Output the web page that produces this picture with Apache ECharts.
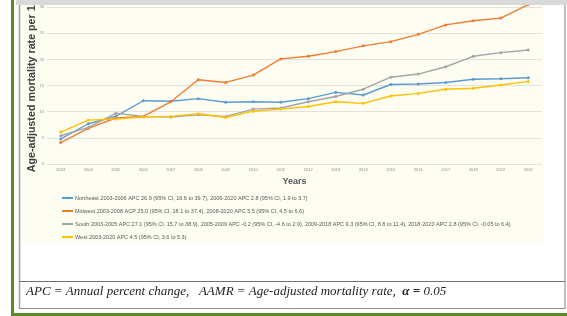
<!DOCTYPE html>
<html>
<head>
<meta charset="utf-8">
<script src="https://cdn.jsdelivr.net/npm/echarts@6/dist/echarts.min.js"></script>
<style>
  html, body { margin: 0; padding: 0; background: #fff; }
  #chart { width: 567px; height: 316px; }
</style>
</head>
<body>
<div id="chart"></div>
<script>
const years = ["2003", "2004", "2005", "2006", "2007", "2008", "2009", "2010", "2011",
  "2012", "2013", "2014", "2015", "2016", "2017", "2018", "2019", "2020"];

const northeast = [4.8, 7.7, 9.1, 12.1, 12.0, 12.5, 11.8, 11.9, 11.8, 12.5, 13.7, 13.2, 15.2, 15.3, 15.6, 16.2, 16.3, 16.5];
const midwest = [4.1, 6.8, 8.8, 9.1, 11.9, 16.1, 15.6, 17.0, 20.1, 20.6, 21.5, 22.6, 23.4, 24.8, 26.6, 27.4, 27.9, 30.5];
const south = [5.4, 7.0, 9.7, 9.1, 9.0, 9.4, 9.1, 10.5, 10.7, 11.9, 12.9, 14.3, 16.6, 17.2, 18.6, 20.6, 21.3, 21.8];
const west = [6.1, 8.4, 8.6, 9.0, 9.1, 9.6, 8.9, 10.1, 10.5, 11.0, 11.9, 11.6, 13.0, 13.5, 14.3, 14.5, 15.1, 15.8];

const seriesNames = [
  "Northeast 2003-2006 APC 26.9 (95% CI, 16.6 to 39.7), 2006-2020 APC 2.8 (95% CI, 1.9 to 3.7)",
  "Midwest 2003-2008 ACP 25.0 (95% CI, 18.1 to 37.4), 2008-2020 APC 5.5 (95% CI, 4.5 to 6.6)",
  "South 2003-2005 APC 27.1 (95% CI, 15.7 to 38.9), 2005-2009 APC -0.2 (95% CI, -4.6 to 2.9), 2009-2018 APC 9.3 (95% CI, 8.8 to 11.4), 2018-2020 APC 2.8 (95% CI, -0.05 to 6.4)",
  "West 2003-2020 APC 4.5 (95% CI, 3.6 to 5.3)"
];
const colors = ["#5b9bd5", "#ed7d31", "#a5a5a5", "#ffc000"];
const footnote = "APC = Annual percent change,   AAMR = Age-adjusted mortality rate,  ";

const chart = echarts.init(document.getElementById("chart"));

const makeSeries = (name, data, color) => ({
  name: name,
  type: "line",
  data: data,
  color: color,
  symbol: "circle",
  symbolSize: 3,
  lineStyle: { width: 1.4, color: color },
  itemStyle: { color: color },
  z: 3,
});

const option = {
  animation: false,
  backgroundColor: "#ffffff",
  graphic: [
    // cream plot panel
    { type: "rect", z: -10, shape: { x: 20, y: 5, width: 524, height: 238 }, style: { fill: "#fefdf2" } },
    // top gray strip (the screenshot cuts the chart off here)
    { type: "rect", z: 10, shape: { x: 16, y: 0, width: 551, height: 5 }, style: { fill: "#d9d9d9" } },
    // green left bar
    { type: "rect", z: 10, shape: { x: 11, y: 0, width: 3, height: 316 }, style: { fill: "#5a8a2a" } },
    // green bottom bar
    { type: "rect", z: 10, shape: { x: 11, y: 313, width: 556, height: 3 }, style: { fill: "#5a8a2a" } },
    // box lines
    { type: "line", z: 10, shape: { x1: 19.5, y1: 5, x2: 19.5, y2: 309 }, style: { stroke: "#a0a0a0", lineWidth: 1.5 } },
    { type: "line", z: 10, shape: { x1: 565, y1: 5, x2: 565, y2: 309 }, style: { stroke: "#808080", lineWidth: 1 } },
    { type: "line", z: 10, shape: { x1: 19.5, y1: 281.5, x2: 565, y2: 281.5 }, style: { stroke: "#707070", lineWidth: 1 } },
    { type: "line", z: 10, shape: { x1: 19.5, y1: 308.5, x2: 565, y2: 308.5 }, style: { stroke: "#909090", lineWidth: 1 } },
    // footnote
    {
      type: "text", z: 10, left: 26, top: 285,
      style: {
        text: "{i|" + footnote + "}{b|α = }{i|0.05}",
        rich: {
          i: { fontFamily: "Liberation Serif", fontStyle: "italic", fontSize: 13, fill: "#222" },
          b: { fontFamily: "Liberation Serif", fontStyle: "italic", fontWeight: "bold", fontSize: 13, fill: "#222" },
        },
      },
    },
  ],
  legend: {
    orient: "vertical",
    left: 56,
    top: 190,
    itemGap: 7,
    itemWidth: 11,
    itemHeight: 3,
    data: seriesNames,
    textStyle: { fontSize: 5.5, color: "#595959", fontFamily: "Liberation Sans", padding: [0, 0, 0, -3] },
  },
  grid: { left: 47, right: 25, top: -19, bottom: 152, outerBoundsMode: "none" },
  xAxis: {
    type: "category",
    data: years,
    name: "Years",
    nameLocation: "middle",
    nameGap: 13,
    nameTextStyle: { fontSize: 9, fontWeight: "bold", color: "#595959", fontFamily: "Liberation Sans" },
    axisLine: { show: false },
    axisTick: { show: false },
    axisLabel: { fontSize: 4, color: "#8c8c8c", margin: 4 },
  },
  yAxis: {
    type: "value",
    min: 0,
    max: 35,
    interval: 5,
    name: "Age-adjusted mortality rate per 100,000",
    nameLocation: "middle",
    nameGap: 9,
    nameMoveOverlap: false,
    nameTextStyle: { fontSize: 10.7, fontWeight: "bold", color: "#404040", fontFamily: "Liberation Sans" },
    axisLine: { show: false },
    axisTick: { show: false },
    axisLabel: { fontSize: 4, color: "#8c8c8c", margin: 3 },
    splitLine: { lineStyle: { color: "#e3e3dc", width: 1 } },
  },
  series: [
    makeSeries(seriesNames[0], northeast, colors[0]),
    makeSeries(seriesNames[1], midwest, colors[1]),
    makeSeries(seriesNames[2], south, colors[2]),
    makeSeries(seriesNames[3], west, colors[3]),
  ],
};

chart.setOption(option);
</script>
</body>
</html>
